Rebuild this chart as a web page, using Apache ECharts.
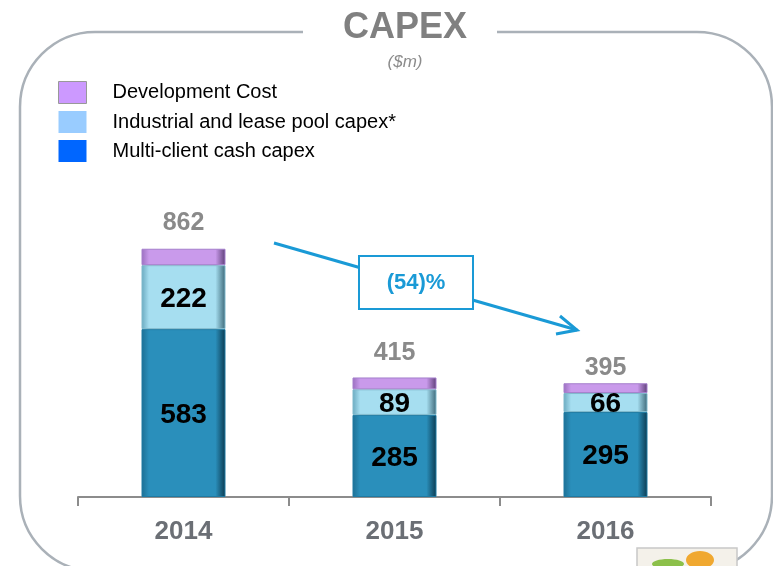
<!DOCTYPE html>
<html>
<head>
<meta charset="utf-8">
<script src="https://cdn.jsdelivr.net/npm/echarts@6/dist/echarts.min.js"></script>
<style>
html,body{margin:0;padding:0;background:#fff;}
#c{width:773px;height:566px;}
</style>
</head>
<body>
<div id="c"></div>
<script>
var categories = ['2014', '2015', '2016'];
var multiClient = [583, 285, 295];
var industrial = [222, 89, 66];
var development = [57, 41, 34];
var totals = [862, 415, 395];
var seriesNames = ['Development Cost', 'Industrial and lease pool capex*', 'Multi-client cash capex'];
var changeLabel = '(54)%';

function hgrad(edgeL, face, edgeR) {
  return new echarts.graphic.LinearGradient(0, 0, 1, 0, [
    {offset: 0, color: edgeL},
    {offset: 0.09, color: face},
    {offset: 0.88, color: face},
    {offset: 1, color: edgeR}
  ]);
}

var FONT = 'Liberation Sans, Arial, sans-serif';
var chart = echarts.init(document.getElementById('c'), null, {renderer: 'canvas'});

var totalDistance = [13, 12, 3];

var option = {
  backgroundColor: '#fff',
  animation: false,
  title: [{
    text: 'CAPEX',
    left: 400, top: 5, textAlign: 'center',
    textStyle: {fontFamily: FONT, fontSize: 36, fontWeight: 'bold', color: '#808080'}
  }, {
    text: '($m)',
    left: 400, top: 49, textAlign: 'center',
    textStyle: {fontFamily: FONT, fontSize: 17, fontStyle: 'italic', fontWeight: 'normal', color: '#8c8c8c'}
  }],
  legend: {
    orient: 'vertical',
    left: 58, top: 81, padding: 0,
    itemWidth: 28, itemHeight: 22, itemGap: 7,
    icon: 'rect',
    selectedMode: false,
    textStyle: {fontFamily: FONT, fontSize: 20, color: '#000', padding: [0, 0, 0, 21]},
    data: [
      {name: seriesNames[0], itemStyle: {color: '#cc99ff', borderColor: '#999', borderWidth: 1}},
      {name: seriesNames[1], itemStyle: {color: '#99ccff', borderWidth: 0}},
      {name: seriesNames[2], itemStyle: {color: '#0066ff', borderWidth: 0}}
    ]
  },
  grid: {left: 78, right: 62, top: 209, bottom: 69},
  xAxis: {
    type: 'category',
    data: categories,
    axisLine: {lineStyle: {color: '#8c8c8c', width: 2}},
    axisTick: {show: true, length: 9, lineStyle: {color: '#8c8c8c', width: 2}},
    axisLabel: {margin: 22, fontFamily: FONT, fontSize: 26, fontWeight: 'bold', color: '#6b6f75'}
  },
  yAxis: {type: 'value', min: 0, max: 1000, show: false, splitLine: {show: false}},
  series: [{
    name: seriesNames[2], type: 'bar', stack: 'capex', barWidth: 84,
    data: multiClient,
    itemStyle: {color: hgrad('#1d6f93', '#2a8fbb', '#0c3a50'), borderColor: '#1e7aa3', borderWidth: 1},
    label: {show: true, position: 'inside', offset: [0, 2], fontFamily: FONT, fontSize: 28, fontWeight: 'bold', color: '#000'}
  }, {
    name: seriesNames[1], type: 'bar', stack: 'capex', barWidth: 84,
    data: industrial,
    itemStyle: {color: hgrad('#6aa9bf', '#a6def0', '#3d6878'), borderColor: '#7fb9cc', borderWidth: 1},
    label: {show: true, position: 'inside', offset: [0, 2], fontFamily: FONT, fontSize: 28, fontWeight: 'bold', color: '#000'}
  }, {
    name: seriesNames[0], type: 'bar', stack: 'capex', barWidth: 84,
    data: development.map(function (v, i) {
      return {value: v, label: {distance: totalDistance[i]}};
    }),
    itemStyle: {color: hgrad('#9a6fbf', '#c99aeb', '#5e3f78'), borderColor: '#a57fcc', borderWidth: 1},
    label: {
      show: true, position: 'top',
      fontFamily: FONT, fontSize: 25, fontWeight: 'bold', color: '#8a8a8a',
      formatter: function (p) { return String(totals[p.dataIndex]); }
    }
  }],
  graphic: [
    {type: 'rect', z: 0, shape: {x: 20, y: 32, width: 752, height: 539, r: 75},
     style: {fill: 'none', stroke: '#aab1b8', lineWidth: 2.5}},
    {type: 'rect', z: 1, shape: {x: 303, y: 24, width: 194, height: 16},
     style: {fill: '#fff', stroke: null}},
    {type: 'line', z: 5, shape: {x1: 274, y1: 243, x2: 577, y2: 330},
     style: {stroke: '#1a9ad6', lineWidth: 3}},
    {type: 'polyline', z: 5, shape: {points: [[560, 316], [577, 330], [556, 334]]},
     style: {fill: 'none', stroke: '#1a9ad6', lineWidth: 3}},
    {type: 'rect', z: 6, shape: {x: 359, y: 256, width: 114, height: 53},
     style: {fill: '#fff', stroke: '#1a9ad6', lineWidth: 2}},
    {type: 'text', z: 7, x: 416, y: 283,
     style: {text: changeLabel, fill: '#1a9ad6', font: 'bold 22px ' + FONT, textAlign: 'center', textVerticalAlign: 'middle'}},
    {type: 'rect', z: 3, shape: {x: 637, y: 548, width: 100, height: 22},
     style: {fill: '#f4f1ea', stroke: '#c8c8c8', lineWidth: 1.5}},
    {type: 'ellipse', z: 4, shape: {cx: 668, cy: 564, rx: 16, ry: 5},
     style: {fill: '#8cc04a'}},
    {type: 'ellipse', z: 4, shape: {cx: 700, cy: 560, rx: 14, ry: 9},
     style: {fill: '#f0a830'}}
  ]
};
chart.setOption(option);
</script>
</body>
</html>
